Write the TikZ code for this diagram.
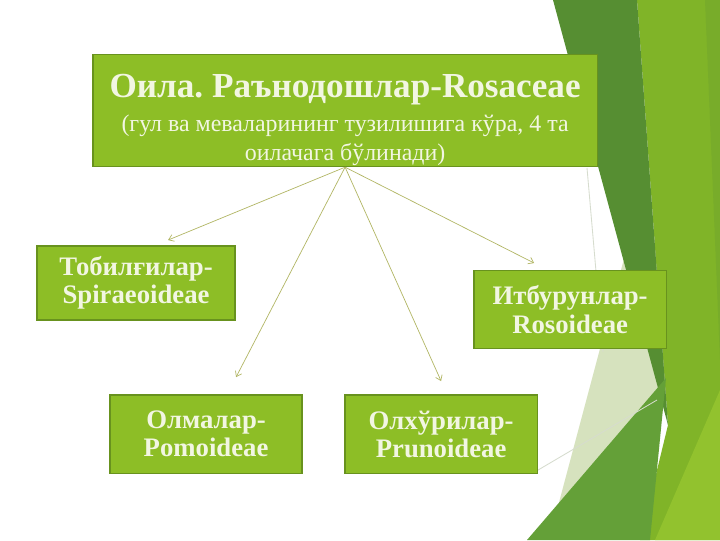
\documentclass[tikz,border=0pt]{standalone}
\usepackage{fontspec}
\setmainfont{Liberation Serif}
\usetikzlibrary{positioning,arrows.meta}
\frenchspacing
\definecolor{boxgreen}{RGB}{141,190,38}
\definecolor{boxedge}{RGB}{104,146,30}
\definecolor{boxtext}{RGB}{242,246,226}
\definecolor{linkcol}{RGB}{178,182,100}
\definecolor{facetdark}{RGB}{86,142,50}
\definecolor{facetlight}{RGB}{128,180,40}
\definecolor{facetstrip}{RGB}{120,172,42}
\definecolor{facetmid}{RGB}{100,160,56}
\definecolor{facetpale}{RGB}{214,226,190}
\definecolor{facetlow}{RGB}{146,194,46}
\definecolor{faintline}{RGB}{214,220,206}
\tikzset{
  groupbox/.style={draw=boxedge, line width=0.9pt, fill=boxgreen, text=boxtext,
    align=center, inner sep=0pt, minimum width=4.8cm, minimum height=1.95cm,
    font=\fontsize{19}{20}\selectfont\bfseries},
  famtop/.style={groupbox, minimum width=12.6cm, minimum height=2.8cm,
    font=\fontsize{17}{20.6}\selectfont},
  link/.style={draw=linkcol, line width=0.5pt, -{Straight Barb[length=3.5pt,width=5pt]}}
}
\begin{document}
\begin{tikzpicture}
  \begin{scope}[x=0.025cm, y=-0.025cm]
    \fill[white] (0,0) rectangle (720,540);
    \useasboundingbox (0,0) rectangle (720,540);
    \fill[facetpale] (629,240) -- (655,240) -- (668,390) -- (549,540) -- cycle;
    \fill[facetlight] (637,0) -- (720,0) -- (720,540) -- (640,540) -- (668,425) -- cycle;
    \fill[facetstrip] (705,0) -- (720,0) -- (720,360) -- cycle;
    \fill[facetlow] (720,390) -- (720,540) -- (655,540) -- cycle;
    \fill[facetdark] (553,0) -- (637,0) -- (668,425) -- cycle;
    \fill[facetmid] (527,540) -- (666,378) -- (650,540) -- cycle;
    \draw[faintline, line width=0.6pt] (587,168) -- (603,352);
    \draw[faintline, line width=0.6pt] (533,473) -- (657,400);
  \end{scope}

  \node[famtop] (fam) at (8.625,-2.7625)
    {\rule{0pt}{30pt}{\fontsize{25}{25}\selectfont\bfseries Оила. Раънодошлар-Rosaceae}\\[3pt]
     (гул ва меваларининг тузилишига кўра, 4 та\\ оилачага бўлинади)};
  \node[groupbox, on grid, below left=4.3125cm and 5.225cm of fam, minimum width=4.95cm, minimum height=1.85cm] (tob) {Тобилғилар-\\Spiraeoideae};
  \node[groupbox, on grid, below right=4.975cm and 5.625cm of fam] (itb) {Итбурунлар-\\Rosoideae};
  \node[groupbox, on grid, below left=8.0875cm and 3.475cm of fam] (olm) {Олмалар-\\Pomoideae};
  \node[groupbox, on grid, right=5.875cm of olm] (olx) {Олхўрилар-\\Prunoideae};

  \coordinate (tobend) at (4.2,-6.0);
  \coordinate (olmend) at (5.9,-9.425);
  \coordinate (olxend) at (11.025,-9.525);
  \coordinate (itbend) at (13.35,-6.575);
  \draw[link] (fam.south) -- (tobend);
  \draw[link] (fam.south) -- (olmend);
  \draw[link] (fam.south) -- (olxend);
  \draw[link] (fam.south) -- (itbend);
\end{tikzpicture}
\end{document}
